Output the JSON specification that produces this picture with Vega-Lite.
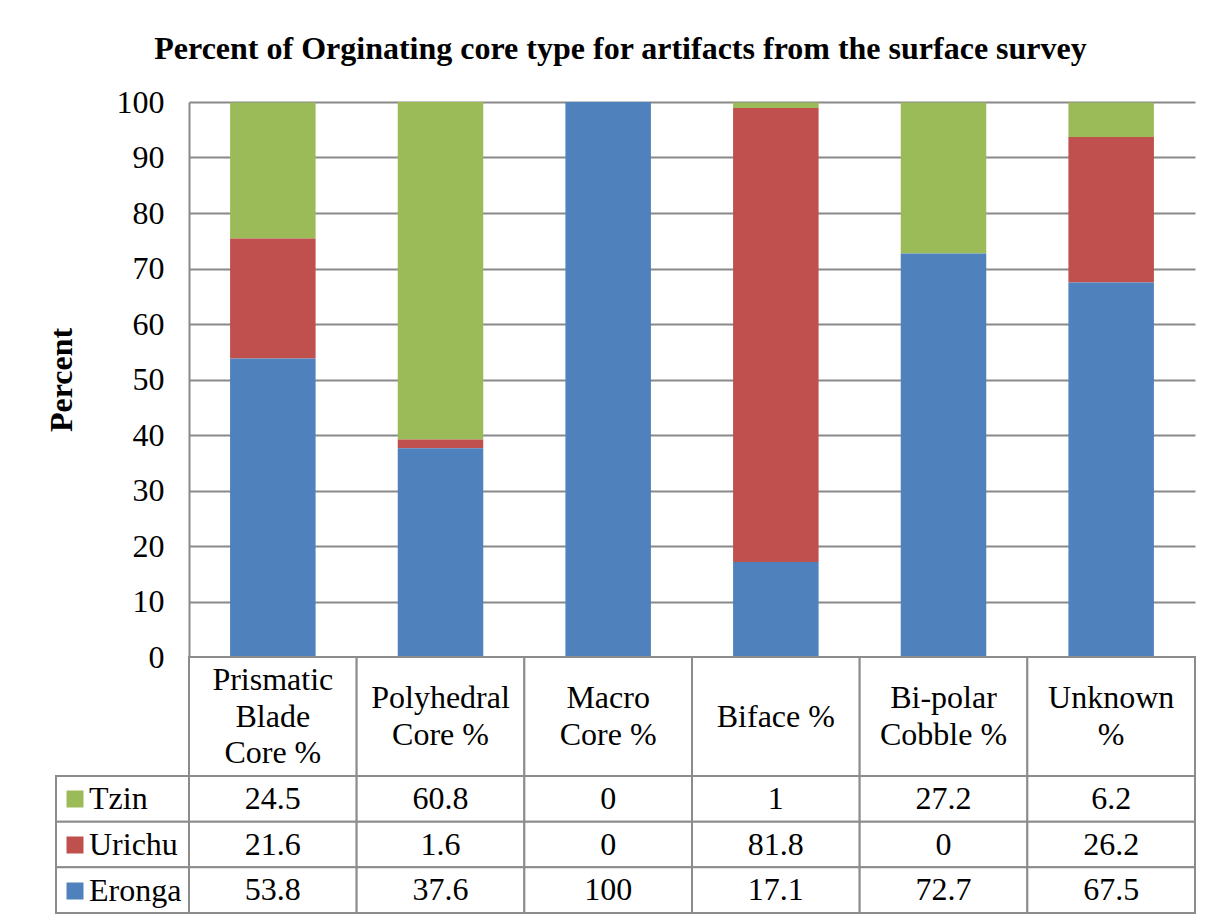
{
  "$schema": "https://vega.github.io/schema/vega-lite/v6.json",
  "padding": {"left": 45, "top": 33, "right": 5, "bottom": 5},
  "background": "white",
  "title": {
    "text": "Percent of Orginating core type for artifacts from the surface survey",
    "font": "Liberation Serif", "fontSize": 32, "fontWeight": "bold", "color": "black",
    "anchor": "middle", "offset": 20
  },
  "datasets": {
    "shares": [
      {"cat": "Prismatic Blade Core %", "series": "Tzin", "value": 24.5},
      {"cat": "Prismatic Blade Core %", "series": "Urichu", "value": 21.6},
      {"cat": "Prismatic Blade Core %", "series": "Eronga", "value": 53.8},
      {"cat": "Polyhedral Core %", "series": "Tzin", "value": 60.8},
      {"cat": "Polyhedral Core %", "series": "Urichu", "value": 1.6},
      {"cat": "Polyhedral Core %", "series": "Eronga", "value": 37.6},
      {"cat": "Macro Core %", "series": "Tzin", "value": 0},
      {"cat": "Macro Core %", "series": "Urichu", "value": 0},
      {"cat": "Macro Core %", "series": "Eronga", "value": 100},
      {"cat": "Biface %", "series": "Tzin", "value": 1},
      {"cat": "Biface %", "series": "Urichu", "value": 81.8},
      {"cat": "Biface %", "series": "Eronga", "value": 17.1},
      {"cat": "Bi-polar Cobble %", "series": "Tzin", "value": 27.2},
      {"cat": "Bi-polar Cobble %", "series": "Urichu", "value": 0},
      {"cat": "Bi-polar Cobble %", "series": "Eronga", "value": 72.7},
      {"cat": "Unknown %", "series": "Tzin", "value": 6.2},
      {"cat": "Unknown %", "series": "Urichu", "value": 26.2},
      {"cat": "Unknown %", "series": "Eronga", "value": 67.5}
    ],
    "headers": [
      {"cat": "Prismatic Blade Core %", "hdr": "Prismatic\nBlade\nCore %", "lines": 3},
      {"cat": "Polyhedral Core %", "hdr": "Polyhedral\nCore %", "lines": 2},
      {"cat": "Macro Core %", "hdr": "Macro\nCore %", "lines": 2},
      {"cat": "Biface %", "hdr": "Biface %", "lines": 1},
      {"cat": "Bi-polar Cobble %", "hdr": "Bi-polar\nCobble %", "lines": 2},
      {"cat": "Unknown %", "hdr": "Unknown\n%", "lines": 2}
    ],
    "series": [
      {"series": "Tzin"},
      {"series": "Urichu"},
      {"series": "Eronga"}
    ]
  },
  "concat": [
    {
      "data": {"name": "series"},
      "width": 133, "height": 555,
      "mark": {"type": "point", "opacity": 0},
      "encoding": {}
    },
    {
      "data": {"name": "shares"},
      "width": 1006, "height": 555,
      "transform": [
        {"calculate": "indexof(['Eronga', 'Urichu', 'Tzin'], datum.series)", "as": "stackOrder"}
      ],
      "mark": {"type": "bar"},
      "encoding": {
        "x": {
          "field": "cat", "type": "nominal",
          "sort": ["Prismatic Blade Core %", "Polyhedral Core %", "Macro Core %", "Biface %", "Bi-polar Cobble %", "Unknown %"],
          "axis": null,
          "scale": {"paddingInner": 0.49, "paddingOuter": 0.245}
        },
        "y": {
          "field": "value", "type": "quantitative", "stack": "zero",
          "scale": {"domain": [0, 100], "nice": false},
          "axis": {
            "title": "Percent",
            "values": [0, 10, 20, 30, 40, 50, 60, 70, 80, 90, 100],
            "grid": true, "gridColor": "#898989", "gridWidth": 2,
            "domainColor": "#898989", "domainWidth": 2,
            "ticks": false, "tickSize": 0,
            "labelPadding": 25,
            "labelFont": "Liberation Serif", "labelFontSize": 32, "labelColor": "black",
            "titleFont": "Liberation Serif", "titleFontSize": 32, "titleFontWeight": "bold", "titleColor": "black",
            "minExtent": 100, "maxExtent": 100, "titlePadding": 11
          }
        },
        "color": {
          "field": "series", "type": "nominal",
          "scale": {"domain": ["Eronga", "Urichu", "Tzin"], "range": ["#4F81BD", "#C0504D", "#9BBB59"]},
          "legend": null
        },
        "order": {"field": "stackOrder", "type": "quantitative", "sort": "ascending"}
      }
    },
    {
      "data": {"name": "series"},
      "width": 133, "height": 119,
      "mark": {"type": "point", "opacity": 0},
      "encoding": {}
    },
    {
      "data": {"name": "headers"},
      "width": 1006, "height": 119,
      "encoding": {
        "x": {
          "field": "cat", "type": "nominal",
          "sort": ["Prismatic Blade Core %", "Polyhedral Core %", "Macro Core %", "Biface %", "Bi-polar Cobble %", "Unknown %"],
          "axis": null,
          "scale": {"paddingInner": 0, "paddingOuter": 0}
        }
      },
      "layer": [
        {
          "mark": {"type": "rect", "fill": "white", "stroke": "#8c8c8c", "strokeWidth": 2}
        },
        {
          "transform": [{"filter": "datum.lines == 3"}],
          "mark": {"type": "text", "font": "Liberation Serif", "fontSize": 32, "lineBreak": "\n", "lineHeight": 36.5, "baseline": "middle", "dy": -36.5, "color": "black"},
          "encoding": {"text": {"field": "hdr", "type": "nominal"}}
        },
        {
          "transform": [{"filter": "datum.lines == 2"}],
          "mark": {"type": "text", "font": "Liberation Serif", "fontSize": 32, "lineBreak": "\n", "lineHeight": 36.5, "baseline": "middle", "dy": -18.25, "color": "black"},
          "encoding": {"text": {"field": "hdr", "type": "nominal"}}
        },
        {
          "transform": [{"filter": "datum.lines == 1"}],
          "mark": {"type": "text", "font": "Liberation Serif", "fontSize": 32, "lineBreak": "\n", "lineHeight": 36.5, "baseline": "middle", "color": "black"},
          "encoding": {"text": {"field": "hdr", "type": "nominal"}}
        }
      ]
    },
    {
      "data": {"name": "series"},
      "width": 133, "height": 137,
      "layer": [
        {
          "mark": {"type": "rect", "fill": "white", "stroke": "#8c8c8c", "strokeWidth": 2},
          "encoding": {
            "y": {
              "field": "series", "type": "nominal", "sort": ["Tzin", "Urichu", "Eronga"],
              "axis": null, "scale": {"paddingInner": 0, "paddingOuter": 0}
            }
          }
        },
        {
          "mark": {"type": "square", "opacity": 0, "size": 1},
          "encoding": {
            "y": {"field": "series", "type": "nominal", "sort": ["Tzin", "Urichu", "Eronga"], "axis": null},
            "color": {
              "field": "series", "type": "nominal",
              "scale": {"domain": ["Tzin", "Urichu", "Eronga"], "range": ["#9BBB59", "#C0504D", "#4F81BD"]},
              "legend": {
                "orient": "top-left", "title": null, "values": ["Tzin", "Urichu", "Eronga"],
                "symbolType": "square", "symbolSize": 289, "symbolOpacity": 1, "symbolStrokeWidth": 0,
                "symbolOffset": -4,
                "labelFont": "Liberation Serif", "labelFontSize": 32, "labelColor": "black",
                "rowPadding": 14, "offset": 7, "padding": 0, "labelOffset": -2
              }
            }
          }
        }
      ]
    },
    {
      "data": {"name": "shares"},
      "width": 1006, "height": 137,
      "encoding": {
        "x": {
          "field": "cat", "type": "nominal",
          "sort": ["Prismatic Blade Core %", "Polyhedral Core %", "Macro Core %", "Biface %", "Bi-polar Cobble %", "Unknown %"],
          "axis": null, "scale": {"paddingInner": 0, "paddingOuter": 0}
        },
        "y": {
          "field": "series", "type": "nominal", "sort": ["Tzin", "Urichu", "Eronga"],
          "axis": null, "scale": {"paddingInner": 0, "paddingOuter": 0}
        }
      },
      "layer": [
        {
          "mark": {"type": "rect", "fill": "white", "stroke": "#8c8c8c", "strokeWidth": 2}
        },
        {
          "mark": {"type": "text", "font": "Liberation Serif", "fontSize": 32, "baseline": "middle", "color": "black"},
          "encoding": {"text": {"field": "value", "type": "nominal"}}
        }
      ]
    }
  ],
  "columns": 2,
  "spacing": 0,
  "bounds": "flush",
  "align": "each",
  "resolve": {"scale": {"x": "independent", "y": "independent", "color": "independent"}, "legend": {"color": "independent"}},
  "config": {"view": {"stroke": null}, "font": "Liberation Serif"}
}
